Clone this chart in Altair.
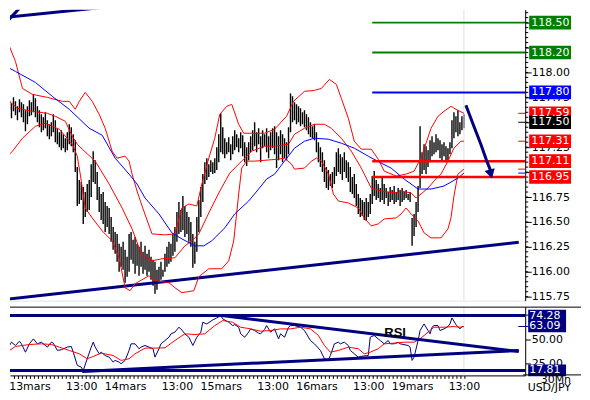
import altair as alt
import pandas as pd

# ---------------- price bars (30 min, bar index 0..231) ----------------
bar_high = [
117.74,117.70,117.76,117.72,117.69,117.75,117.71,117.66,117.73,117.70,
117.68,117.62,117.66,117.72,117.70,117.78,117.74,117.66,117.62,117.58,
117.55,117.60,117.52,117.48,117.50,117.58,117.52,117.44,117.40,117.42,
117.38,117.34,117.40,117.48,117.45,117.38,117.32,117.05,116.92,116.90,
116.85,116.80,116.88,116.92,117.08,117.21,117.12,117.00,116.85,116.78,
116.80,116.70,116.66,116.64,116.55,116.45,116.40,116.38,116.28,116.25,
116.30,116.22,116.15,116.38,116.40,116.32,116.35,116.28,116.25,116.30,
116.20,116.26,116.18,116.22,116.15,116.12,116.10,116.02,116.05,116.10,
116.02,116.18,116.25,116.30,116.28,116.38,116.45,116.60,116.70,116.62,
116.76,116.66,116.60,116.55,116.50,116.38,116.30,116.55,116.72,116.85,
116.98,117.10,117.14,117.08,117.12,117.10,117.14,117.25,117.38,117.59,
117.45,117.34,117.30,117.35,117.28,117.36,117.42,117.38,117.34,117.40,
117.37,117.30,117.25,117.30,117.36,117.42,117.50,117.40,117.44,117.36,
117.42,117.38,117.44,117.36,117.40,117.44,117.46,117.40,117.36,117.42,
117.38,117.34,117.30,117.45,117.79,117.76,117.70,117.68,117.66,117.64,
117.60,117.62,117.58,117.55,117.50,117.46,117.48,117.40,117.30,117.25,
117.20,117.12,117.05,117.02,116.98,117.00,117.05,117.20,117.24,117.18,
117.15,117.20,117.12,117.10,117.05,116.95,116.98,116.88,116.78,116.74,
116.72,116.70,116.74,116.70,116.78,116.96,117.01,116.92,116.88,116.84,
116.95,116.88,116.84,116.80,116.85,116.82,116.86,116.80,116.84,116.82,
116.84,116.80,116.82,116.78,116.80,116.54,116.58,116.70,116.86,117.46,
117.20,117.28,117.26,117.22,117.32,117.36,117.30,117.38,117.34,117.32,
117.28,117.30,117.26,117.24,117.30,117.52,117.60,117.56,117.62,117.50,
117.56,117.58]
bar_low = [
117.58,117.55,117.60,117.62,117.54,117.61,117.57,117.52,117.60,117.55,
117.50,117.41,117.48,117.56,117.57,117.60,117.55,117.50,117.45,117.40,
117.42,117.44,117.36,117.33,117.36,117.40,117.30,117.28,117.25,117.22,
117.24,117.20,117.22,117.28,117.26,117.20,117.00,116.66,116.68,116.72,
116.48,116.55,116.60,116.62,116.75,116.90,116.88,116.72,116.60,116.52,
116.48,116.40,116.45,116.38,116.30,116.22,116.18,116.10,116.00,116.05,
116.02,115.89,115.95,116.00,116.12,116.08,115.98,116.06,115.96,116.05,
115.98,116.02,115.96,116.00,115.92,115.86,115.78,115.82,115.90,115.92,
115.95,116.00,116.05,116.08,116.10,116.16,116.20,116.30,116.38,116.40,
116.42,116.35,116.38,116.30,116.25,116.04,116.08,116.20,116.40,116.55,
116.70,116.88,116.92,116.95,117.00,116.98,116.99,117.02,117.10,117.20,
117.18,117.14,117.18,117.20,117.12,117.18,117.22,117.25,117.20,117.24,
117.16,117.10,117.06,117.12,117.20,117.22,117.26,117.20,117.28,117.10,
117.24,117.26,117.20,117.14,117.22,117.24,117.18,117.04,117.12,117.18,
117.10,117.14,117.12,117.18,117.40,117.50,117.52,117.48,117.50,117.46,
117.48,117.45,117.42,117.38,117.35,117.34,117.32,117.20,117.10,117.05,
117.00,116.90,116.84,116.82,116.86,116.84,116.88,116.96,117.00,116.98,
116.92,117.00,116.94,116.90,116.80,116.78,116.74,116.66,116.58,116.55,
116.56,116.52,116.51,116.55,116.58,116.68,116.76,116.72,116.74,116.70,
116.72,116.68,116.74,116.66,116.70,116.72,116.68,116.70,116.72,116.66,
116.70,116.72,116.74,116.72,116.70,116.26,116.36,116.45,116.60,116.84,
116.98,117.02,116.98,117.05,117.10,117.16,117.18,117.20,117.22,117.14,
117.12,117.16,117.10,117.12,117.18,117.24,117.34,117.40,117.36,117.38,
117.42,117.44]

# ---------------- Bollinger bands and moving average (knots) ----------------
upper_i = [-0.5,3,6,9.5,14.5,22,29.5,33,36,38,41,44.5,48,51,54.5,57,61,63,64.5,67,69.5,74.5,81,86,89.5,93,97,99.5,103,106,108.5,112,114.5,118,120.5,124.5,131,136,142,145.5,151,156,159.5,163.5,167,169.5,173,176,179.5,184.5,188,191,197,202,206,209.5,214.5,218,221,224.5,227,231]
upper_p = [118.63,118.26,118.11,117.84,117.78,117.75,117.71,117.71,117.63,117.71,117.80,117.71,117.58,117.44,117.21,117.14,117.16,117.11,116.98,116.81,116.66,116.38,116.37,116.38,116.64,116.68,116.66,116.88,117.14,117.34,117.58,117.66,117.68,117.48,117.39,117.39,117.39,117.43,117.56,117.71,117.81,117.82,117.84,117.93,117.88,117.74,117.54,117.31,117.23,117.23,117.13,117.01,116.96,116.98,117.01,117.14,117.44,117.56,117.61,117.66,117.63,117.59]
mid_i = [-0.5,3,7,14.5,22,26,31,34.5,37,39.5,46,53,59.5,64.5,69.5,74.5,79.5,86,91,94.5,98,103,108,113.5,119.5,124.5,131,136,143,146,151,156,161,164.5,169.5,174.5,179.5,184.5,189.5,197,199.5,204.5,207,209.5,213,216,219.5,223,226,229.5,231]
mid_p = [117.86,117.71,117.64,117.61,117.59,117.56,117.51,117.36,117.28,117.23,117.11,116.88,116.64,116.43,116.16,116.11,116.13,116.14,116.26,116.31,116.38,116.59,116.79,116.99,117.11,117.21,117.26,117.26,117.28,117.38,117.44,117.48,117.48,117.44,117.34,117.21,117.04,116.84,116.81,116.79,116.81,116.79,116.74,116.78,116.84,116.91,116.98,117.11,117.24,117.31,117.31]
lower_i = [-0.5,4.5,9.5,16,21,28,34.5,37,38.5,41,44.5,49.5,54.5,58,61,63.5,66,73,76,83,86,89.5,95.5,98,103,109.5,113,115.5,118,119.5,122,126,138,141,144.5,146,151,154.5,157,159.5,163,165.5,168,173,178,181,184.5,188,191,197,199.5,202,204.5,208,211,214.5,219.5,223,224.5,226,228,231]
lower_p = [117.11,117.21,117.34,117.46,117.49,117.43,117.28,117.16,116.98,116.64,116.54,116.41,116.31,116.14,115.84,115.81,115.88,115.96,115.91,115.89,115.84,115.79,115.81,115.95,116.03,116.03,116.11,116.31,116.78,117.04,117.11,117.11,117.13,117.14,117.08,117.03,117.04,117.11,117.14,117.11,116.98,116.78,116.71,116.69,116.64,116.54,116.46,116.48,116.53,116.54,116.58,116.64,116.58,116.51,116.39,116.34,116.34,116.43,116.54,116.76,116.98,117.03]
ma_i = [-0.5,6,16,24.5,33,43,49.5,56,63,67,71,78,84.5,89.5,96,100.5,104.5,111,116,123,128,132,136,141,146,151,156,163,169.5,176,183,189.5,194.5,201,208,214.5,221,228,231]
ma_p = [118.08,118.01,117.90,117.76,117.63,117.44,117.37,117.14,116.98,116.88,116.74,116.58,116.39,116.33,116.26,116.26,116.31,116.44,116.58,116.71,116.83,116.93,116.98,117.11,117.24,117.31,117.34,117.33,117.29,117.24,117.16,117.09,117.04,116.93,116.83,116.83,116.86,116.94,116.99]

# ---------------- trend lines, levels, arrow ----------------
support_i = [-0.5, 258.5]
support_p = [115.72, 116.295]
top1_i = [-0.5, 78]
top1_p = [118.55, 118.71]
top2_i = [-0.5, 11]
top2_p = [118.46, 118.71]

level_p = [118.50, 118.20, 117.80, 117.11, 116.95]
level_color = ["#008000", "#008000", "#0000ff", "#ff0000", "#ff0000"]
level_width = [2, 2, 2, 2.5, 2.5]
level_start_i = 185
level_end_i = 262

arrow_i = [232, 236, 239.5, 242.5, 244.5]
arrow_p = [117.67, 117.46, 117.28, 117.11, 117.01]
arrow_head_i = [244.5]
arrow_head_p = [116.98]

tag_p = [118.50, 118.20, 117.80, 117.59, 117.50, 117.31, 117.11, 116.95]
tag_bg = ["#008000", "#008000", "#0000ff", "#ff0000", "#000000", "#ff0000", "#ff0000", "#ff0000"]
marker_p = [117.59, 117.50, 117.31, 117.03, 116.99]
marker_c = ["#ff0000", "#000000", "#ff0000", "#ff0000", "#0000ff"]

price_major = [115.75, 116.00, 116.25, 116.50, 116.75, 117.00, 117.25, 117.50, 117.75, 118.00, 118.25, 118.50]
price_hidden_labels = [117.00, 117.50, 118.25, 118.50]   # covered by the level tags
price_minor_step = 0.05

current_bar = [231]

# ---------------- RSI ----------------
rsi_i = [0,1,3,4,6,8,9,11,13,15,17,19,22,24,25,27,29,32,34,35,37,39,40,42,44,45,46,48,49,51,53,55,56,58,59,61,63,64,66,68,69,71,73,75,76,78,79,81,83,84,86,88,89,91,93,95,97,99,100,102,105,107,109,110,113,115,116,118,119,121,123,124,126,128,129,131,
         132,134,136,138,139,141,143,144,146,149,151,154,156,159,161,163,164,166,168,169,171,173,174,176,178,179,183,184,186,188,189,191,193,194,196,198,199,203,204,205,206,208,209,211,213,214,215,216,218,219,221,223,224,225,227,229,230,231]
rsi_v = [45.2,45.9,43.5,46.9,43.5,47.9,45.2,36.6,45.2,50.3,45.2,46.9,41.8,46.9,45.9,38.4,39.1,41.8,42.5,36.6,23.0,21.2,17.8,29.8,41.8,46.9,41.8,34.9,36.6,33.2,31.5,26.4,28.1,26.4,24.7,28.1,38.4,45.2,45.2,40.1,41.8,43.5,41.8,40.1,31.5,40.1,45.2,48.6,52.0,55.5,57.2,62.3,60.6,55.5,52.0,43.5,52.0,57.2,67.4,65.7,69.8,71.9,74.3,70.9,67.4,64.0,65.0,62.3,55.5,52.0,57.2,60.6,58.9,56.2,55.5,60.0,
         64.0,57.2,60.6,50.3,55.5,52.0,62.3,64.0,64.0,62.3,58.9,48.6,45.2,38.4,29.8,28.8,33.2,45.2,46.9,45.2,46.9,43.5,38.4,34.9,31.5,32.2,33.2,52.0,53.8,50.3,48.6,45.2,48.6,45.2,45.2,46.9,45.2,43.5,41.8,28.1,31.5,48.6,58.9,65.7,58.9,55.5,62.3,64.0,64.0,58.9,60.6,63.0,65.7,71.9,65.0,60.6,63.0,63.1]
rsima_i = [0,3,6,13,19,24,28,33,38,42,45,49,55,59,63,66,71,76,81,86,91,96,101,106,110,115,119,124,129,134,139,144,149,154,158,161,164,168,173,178,181,184,188,191,196,201,206,209,213,216,221,226,229,231]
rsima_v = [33.2,38.4,42.5,44.5,45.2,44.5,41.8,38.4,34.9,29.8,32.2,35.6,33.2,28.1,29.8,34.9,40.8,40.8,41.1,48.6,55.5,54.8,55.5,64.0,69.2,67.4,62.3,60.6,58.2,58.9,60.6,60.6,62.3,60.6,53.8,43.5,36.6,38.4,41.8,40.1,34.9,36.6,40.1,45.2,45.9,46.9,46.9,50.3,57.2,62.3,62.3,63.0,62.3,63.0]
rsi_level = [74.28, 17.81]
rsi_tag = [74.28, 63.09, 17.81]
rsi_major = [25, 50, 75]
rsi_hidden_labels = [75]   # covered by the 74.28 tag
rsi_tl_down_i = [109.5, 258.5]
rsi_tl_down_v = [74.3, 37.3]
rsi_tl_up_i = [39.5, 258.5]
rsi_tl_up_v = [16.8, 38.3]
rsi_text_i = [196.5]
rsi_text_v = [56.8]

day_tick_i = [13, 39, 61, 87, 109, 135, 157, 183, 205, 231]
day_tick_label = ["13mars", "13:00", "14mars", "13:00", "15mars", "13:00", "16mars", "13:00", "19mars", "13:00"]
hour_tick_first, hour_tick_last = 5, 231

corner_text = ["30Mn", "USD/JPY"]

# ---------------- scales & axes ----------------
NAVY = "#000080"
FONT = "DejaVu Sans"
XS = alt.Scale(domain=[3.25, 261.75], nice=False, zero=False)
YS = alt.Scale(domain=[115.71, 118.63], nice=False, zero=False)
RS = alt.Scale(domain=[12.68, 83.52], nice=False, zero=False)
W = 517
H_MAIN = 292
H_RSI = 69

hourly = list(range(hour_tick_first, hour_tick_last + 1, 2))
label_expr = " : ".join(f"datum.value == {i} ? '{t}'" for i, t in zip(day_tick_i, day_tick_label)) + " : ''"
price_label_expr = (f"indexof({price_hidden_labels}, datum.value) >= 0 ? '' : "
                    "format(datum.value, '.2f')")
rsi_label_expr = (f"indexof({rsi_hidden_labels}, datum.value) >= 0 ? '' : "
                  "format(datum.value, '.2f')")

AX_MAIN_X = alt.Axis(orient="bottom", labels=False, ticks=False, grid=False, title=None,
                     domainColor="#dde4ec")
AX_MAIN_Y = alt.Axis(orient="right", values=price_major, labelExpr=price_label_expr, title=None,
                     grid=False, tickSize=6, tickColor="black", domainColor="black",
                     labelColor="black", labelFont=FONT, labelFontSize=11, labelPadding=0)
AX_RSI_X = alt.Axis(orient="bottom", values=hourly, labelExpr=label_expr, tickSize=3,
                    tickColor="black", domainColor="black", labelColor="black",
                    labelFont=FONT, labelFontSize=11, labelPadding=2, labelOverlap=False,
                    grid=False, title=None)
AX_RSI_Y = alt.Axis(orient="right", values=rsi_major, labelExpr=rsi_label_expr, title=None,
                    grid=False, tickSize=5, tickColor="black", domainColor="black",
                    labelColor="black", labelFont=FONT, labelFontSize=11, labelPadding=1)


def enc_x(field, ax):
    return alt.X(f"{field}:Q", scale=XS, axis=ax, title=None)


def enc_y(field, ys, ax):
    return alt.Y(f"{field}:Q", scale=ys, axis=ax, title=None)


def line(i_list, v_list, color, width, ys, ax_x, ax_y):
    df = pd.DataFrame({"i": i_list, "v": v_list})
    return alt.Chart(df).mark_line(color=color, strokeWidth=width, clip=True).encode(
        x=enc_x("i", ax_x), y=enc_y("v", ys, ax_y))


def mline(i_list, v_list, color, width):
    return line(i_list, v_list, color, width, YS, AX_MAIN_X, AX_MAIN_Y)


def rline(i_list, v_list, color, width):
    return line(i_list, v_list, color, width, RS, AX_RSI_X, AX_RSI_Y)


# ---------------- main panel ----------------
bars_df = pd.DataFrame({"i": list(range(len(bar_high))), "high": bar_high, "low": bar_low})
bars = alt.Chart(bars_df).mark_rule(color="black", strokeWidth=1.4, clip=True).encode(
    x=enc_x("i", AX_MAIN_X), y=enc_y("low", YS, AX_MAIN_Y), y2="high:Q")

n_minor = int(round((price_major[-1] + 0.10 - price_major[0]) / price_minor_step)) + 1
minor_df = pd.DataFrame({"p": [round(price_major[0] + price_minor_step * k, 2) for k in range(n_minor)]})
minor_ticks = alt.Chart(minor_df).mark_rule(color="black", strokeWidth=1, clip=False).encode(
    x=alt.value(W), x2=alt.value(W + 3), y=enc_y("p", YS, AX_MAIN_Y))

grid_main = alt.Chart(pd.DataFrame({"i": current_bar})).mark_rule(
    color="#d8e1ea", strokeWidth=1).encode(x=enc_x("i", AX_MAIN_X))

levels_df = pd.DataFrame({"p": level_p, "c": level_color, "w": level_width,
                          "s": [level_start_i] * 5, "e": [level_end_i] * 5})
levels = alt.Chart(levels_df).mark_rule(clip=True).encode(
    x=enc_x("s", AX_MAIN_X), x2="e:Q", y=enc_y("p", YS, AX_MAIN_Y),
    color=alt.Color("c:N", scale=None), strokeWidth=alt.StrokeWidth("w:Q", scale=None))

arrow_head = alt.Chart(pd.DataFrame({"i": arrow_head_i, "v": arrow_head_p})).mark_point(
    shape="triangle-down", filled=True, size=110, color=NAVY, opacity=1, angle=345).encode(
    x=enc_x("i", AX_MAIN_X), y=enc_y("v", YS, AX_MAIN_Y))

markers = alt.Chart(pd.DataFrame({"p": marker_p, "c": marker_c})).mark_rule(strokeWidth=1).encode(
    x=alt.value(W - 7), x2=alt.value(W), y=enc_y("p", YS, AX_MAIN_Y),
    color=alt.Color("c:N", scale=None))

tags_df = pd.DataFrame({"p": tag_p, "bg": tag_bg, "t": [f"{v:.2f}" for v in tag_p],
                        "top": [v + 0.068 for v in tag_p], "bot": [v - 0.068 for v in tag_p],
                        "order": list(range(len(tag_p)))})
tag_boxes = alt.Chart(tags_df).mark_rect(clip=False).encode(
    x=alt.value(W + 4), x2=alt.value(W + 46),
    y=enc_y("top", YS, AX_MAIN_Y), y2="bot:Q",
    color=alt.Color("bg:N", scale=None), order="order:Q")
tag_text = alt.Chart(tags_df).mark_text(
    align="left", baseline="middle", color="white", font=FONT, fontSize=11, clip=False).encode(
    x=alt.value(W + 6), y=enc_y("p", YS, AX_MAIN_Y), text="t:N")

main = alt.layer(
    bars,
    grid_main,
    mline(support_i, support_p, NAVY, 3),
    mline(top1_i, top1_p, NAVY, 3),
    mline(top2_i, top2_p, NAVY, 3),
    mline(upper_i, upper_p, "#ff0000", 1),
    mline(mid_i, mid_p, "#ff0000", 1),
    mline(lower_i, lower_p, "#ff0000", 1),
    mline(ma_i, ma_p, "#0000ff", 1),
    levels,
    mline(arrow_i, arrow_p, NAVY, 3),
    arrow_head,
    markers,
    minor_ticks,
    tag_boxes,
    tag_text,
).properties(width=W, height=H_MAIN)

# ---------------- RSI panel ----------------
rsi_df = pd.DataFrame({"i": rsi_i, "v": rsi_v})
rsi_line = alt.Chart(rsi_df).mark_line(color=NAVY, strokeWidth=1, clip=True).encode(
    x=enc_x("i", AX_RSI_X), y=enc_y("v", RS, AX_RSI_Y))

grid_rsi = alt.Chart(pd.DataFrame({"i": current_bar})).mark_rule(
    color="#d8e1ea", strokeWidth=1).encode(x=enc_x("i", AX_RSI_X))

rsi_lv = alt.Chart(pd.DataFrame({"v": rsi_level})).mark_rule(
    color=NAVY, strokeWidth=3).encode(y=enc_y("v", RS, AX_RSI_Y))

rsi_tags_df = pd.DataFrame({"v": rsi_tag, "t": [f"{v:.2f}" for v in rsi_tag],
                            "top": [v + 6.0 for v in rsi_tag], "bot": [v - 6.0 for v in rsi_tag]})
rsi_boxes = alt.Chart(rsi_tags_df).mark_rect(color=NAVY, clip=False).encode(
    x=alt.value(W + 3), x2=alt.value(W + 41),
    y=enc_y("top", RS, AX_RSI_Y), y2="bot:Q")
rsi_tag_text = alt.Chart(rsi_tags_df).mark_text(
    align="left", baseline="middle", color="white", font=FONT, fontSize=11, clip=False).encode(
    x=alt.value(W + 4), y=enc_y("v", RS, AX_RSI_Y), text="t:N")
rsi_marker = alt.Chart(pd.DataFrame({"v": [rsi_tag[1]]})).mark_rule(color=NAVY, strokeWidth=1).encode(
    x=alt.value(W - 7), x2=alt.value(W + 3), y=enc_y("v", RS, AX_RSI_Y))

rsi_word = alt.Chart(pd.DataFrame({"i": rsi_text_i, "v": rsi_text_v, "t": ["RSI"]})).mark_text(
    font="Liberation Sans", fontSize=13, fontWeight="bold", color="black").encode(
    x=enc_x("i", AX_RSI_X), y=enc_y("v", RS, AX_RSI_Y), text="t:N")

top_border = alt.Chart(pd.DataFrame({"k": [0]})).mark_rule(color="black", strokeWidth=1, clip=False).encode(
    x=alt.value(0), x2=alt.value(573), y=alt.value(0.5))
right_base = alt.Chart(pd.DataFrame({"k": [0]})).mark_rule(color="black", strokeWidth=1, clip=False).encode(
    x=alt.value(W - 2), x2=alt.value(573), y=alt.value(68.5))
corner_a = alt.Chart(pd.DataFrame({"t": [corner_text[0]]})).mark_text(
    align="right", baseline="middle", font=FONT, fontSize=11, color="black", clip=False).encode(
    x=alt.value(W + 46), y=alt.value(74), text="t:N")
corner_b = alt.Chart(pd.DataFrame({"t": [corner_text[1]]})).mark_text(
    align="right", baseline="middle", font=FONT, fontSize=11, color="black", clip=False).encode(
    x=alt.value(W + 46), y=alt.value(82), text="t:N")

rsi = alt.layer(
    rsi_line,
    grid_rsi,
    rline(rsima_i, rsima_v, "#ff0000", 1),
    rline(rsi_tl_down_i, rsi_tl_down_v, NAVY, 3),
    rline(rsi_tl_up_i, rsi_tl_up_v, NAVY, 3),
    rsi_lv,
    rsi_word,
    rsi_marker,
    rsi_boxes,
    rsi_tag_text,
    top_border,
    right_base,
    corner_a,
    corner_b,
).properties(width=W, height=H_RSI)

chart = alt.vconcat(main, rsi, spacing=6, bounds="flush").properties(
    padding=0, background="white").configure_view(stroke=None)

chart.save("out.html", embed_options={"renderer": "svg", "actions": False})
